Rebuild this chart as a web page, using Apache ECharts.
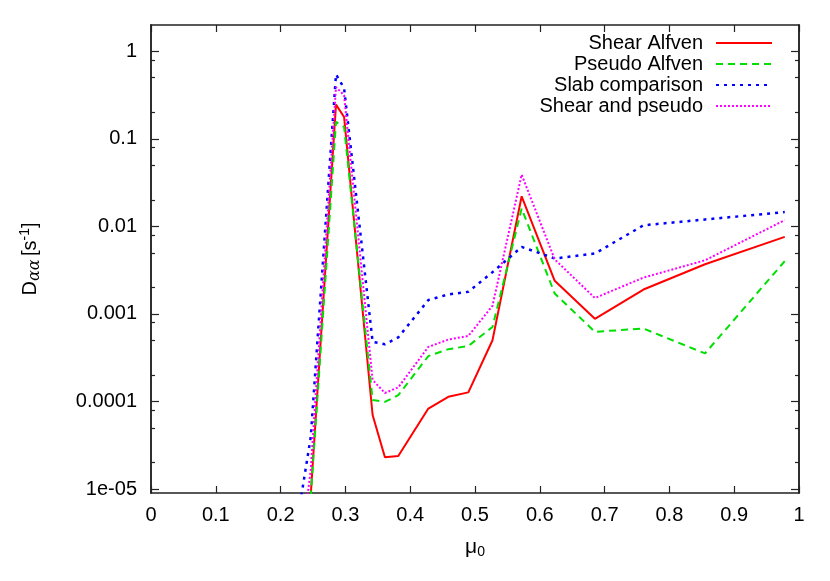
<!DOCTYPE html>
<html>
<head>
<meta charset="utf-8">
<script src="https://cdn.jsdelivr.net/npm/echarts@6/dist/echarts.min.js"></script>
<style>
  html, body { margin: 0; padding: 0; background: #fff; }
  #chart { width: 830px; height: 581px; }
</style>
</head>
<body>
<div id="chart"></div>
<script>
// mu0 sample points (shared by all curves)
var mu = [0.2145, 0.2465, 0.2855, 0.298, 0.342, 0.361, 0.3816, 0.428, 0.4588, 0.4897,
          0.527, 0.572, 0.623, 0.685, 0.760, 0.855, 0.978];

// D_aa [s^-1] (first points lie below the plotted range)
var shearAlfven  = [1e-7, 8.5e-6, 0.246, 0.178, 7.0e-5, 2.3e-5, 2.38e-5, 8.3e-5, 1.13e-4, 1.27e-4,
                    5.0e-4, 0.0221, 0.00239, 8.8e-4, 0.0019, 0.0037, 0.00759];
var pseudoAlfven = [1e-7, 8e-6, 0.156, 0.137, 1.04e-4, 9.9e-5, 1.18e-4, 3.3e-4, 3.96e-4, 4.3e-4,
                    7.1e-4, 0.016, 0.00171, 6.25e-4, 6.8e-4, 3.54e-4, 0.00401];
var slabComparison = [1.3e-6, 3.9e-5, 0.546, 0.378, 4.8e-4, 4.5e-4, 5.4e-4, 0.00144, 0.00167, 0.00179,
                      0.0030, 0.00583, 0.0043, 0.0049, 0.0103, 0.012, 0.0146];
var shearAndPseudo = [2e-7, 1.65e-5, 0.39, 0.315, 1.76e-4, 1.25e-4, 1.45e-4, 4.2e-4, 5.1e-4, 5.6e-4,
                      0.00124, 0.039, 0.0042, 0.00152, 0.0026, 0.0041, 0.0118];

var xTicks = [0, 0.1, 0.2, 0.3, 0.4, 0.5, 0.6, 0.7, 0.8, 0.9, 1];
var yTicks = [1e-5, 1e-4, 1e-3, 1e-2, 1e-1, 1];
var yTickLabels = ['1e-05', '0.0001', '0.001', '0.01', '0.1', '1'];
var yMinorTicks = [2e-5, 5e-5, 8e-5, 2e-4, 5e-4, 8e-4, 2e-3, 5e-3, 8e-3,
                   2e-2, 5e-2, 8e-2, 0.2, 0.5, 0.8];

function pairs(ys) {
  return mu.map(function (m, i) { return [m, ys[i]]; });
}

function yLabel(v) {
  for (var i = 0; i < yTicks.length; i++) {
    if (Math.abs(Math.log10(v) - Math.log10(yTicks[i])) < 1e-6) return yTickLabels[i];
  }
  return '';
}

var font = 'Liberation Sans, Arial, Helvetica, sans-serif';
var axisColor = '#222';

function xAx(pos, labels) {
  return {
    type: 'value', position: pos, min: 0, max: 1, interval: 0.1,
    axisLine: { show: true, onZero: false, lineStyle: { color: axisColor, width: 1.5 } },
    axisTick: { show: true, inside: true, length: 7, lineStyle: { color: axisColor, width: 1.2 } },
    axisLabel: {
      show: labels, fontSize: 20, fontFamily: font, color: '#000', margin: 12,
      formatter: function (v) { return String(Math.round(v * 10) / 10); }
    },
    splitLine: { show: false }
  };
}

function yAx(pos, ticks, len, labels) {
  return {
    type: 'log', logBase: 10, position: pos, min: 9e-6, max: 2,
    axisLine: { show: true, onZero: false, lineStyle: { color: axisColor, width: 1.5 } },
    axisTick: { show: true, inside: true, length: len, customValues: ticks,
                lineStyle: { color: axisColor, width: 1.2 } },
    axisLabel: { show: labels, customValues: ticks, fontSize: 20, fontFamily: font,
                 color: '#000', margin: 14, formatter: yLabel },
    splitLine: { show: false },
    minorTick: { show: false }
  };
}

var xAxes = [xAx('bottom', true), xAx('top', false)];
xAxes[0].name = '{m|μ}{s|0}';
xAxes[0].nameLocation = 'middle';
xAxes[0].nameGap = 42;
xAxes[0].nameTextStyle = {
  fontFamily: font, color: '#000',
  rich: {
    m: { fontSize: 21, fontFamily: font, color: '#000' },
    s: { fontSize: 14, fontFamily: font, color: '#000', padding: [10, 0, 0, 0] }
  }
};

var yAxes = [
  yAx('left', yTicks, 8, true),
  yAx('left', yMinorTicks, 4, false),
  yAx('right', yTicks, 8, false),
  yAx('right', yMinorTicks, 4, false)
];
yAxes[0].name = '{d|D}{a|αα} {d|[s}{e|-1}{d|]}';
yAxes[0].nameLocation = 'middle';
yAxes[0].nameRotate = 90;
yAxes[0].nameGap = 108;
yAxes[0].nameTextStyle = {
  fontFamily: font, color: '#000',
  rich: {
    d: { fontSize: 20, fontFamily: font, color: '#000' },
    a: { fontSize: 16, fontFamily: 'DejaVu Serif, serif', fontStyle: 'italic', color: '#000', padding: [10, 0, 0, 0] },
    e: { fontSize: 14, fontFamily: font, color: '#000', padding: [0, 0, 10, 0] }
  }
};

function line(name, ys, color, type, width) {
  return {
    name: name, type: 'line', data: pairs(ys),
    xAxisIndex: 0, yAxisIndex: 0,
    symbol: 'none', showSymbol: false, clip: true, animation: false,
    lineStyle: { color: color, width: width, type: type },
    itemStyle: { color: color }
  };
}

var chart = echarts.init(document.getElementById('chart'), null, { renderer: 'canvas' });
chart.setOption({
  backgroundColor: '#fff',
  animation: false,
  grid: { left: 151, right: 31, top: 25, bottom: 88 },
  legend: {
    orient: 'vertical', right: 52, top: 28, align: 'right',
    itemWidth: 56, itemHeight: 14, itemGap: 1,
    itemStyle: { opacity: 0 },
    textStyle: { fontSize: 20, fontFamily: font, color: '#000', padding: [0, 8, 0, 0] },
    data: ['Shear Alfven', 'Pseudo Alfven', 'Slab comparison', 'Shear and pseudo']
  },
  xAxis: xAxes,
  yAxis: yAxes,
  series: [
    line('Shear Alfven', shearAlfven, '#ff0000', 'solid', 2),
    line('Pseudo Alfven', pseudoAlfven, '#00e000', [7, 5], 2),
    line('Slab comparison', slabComparison, '#0000ff', [3, 5], 2.5),
    line('Shear and pseudo', shearAndPseudo, '#ff00ff', [2, 2], 2)
  ]
});
</script>
</body>
</html>
